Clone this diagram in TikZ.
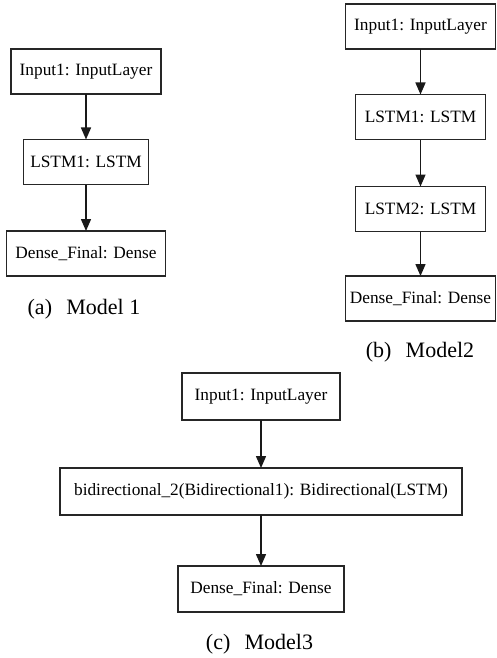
\documentclass[tikz,border=0pt]{standalone}
\usepackage{fontspec}
\setmainfont{Liberation Serif}
\usetikzlibrary{arrows.meta}
\newcommand{\arrow}{{Triangle[length=12pt, width=10pt]}}
\newcommand{\lineWidth}{1.5pt}
\newcommand{\layerFont}{\rmfamily\fontsize{17.3}{20}\selectfont}
\newcommand{\capFont}{\rmfamily\fontsize{22}{26}\selectfont}
\newcommand{\capGap}{\hspace{0.65em}}
\tikzstyle{layer}=[draw=black!85, line width=\lineWidth, inner sep=0, outer sep=0, minimum height=45pt, font=\layerFont]
\tikzstyle{caption}=[inner sep=0, outer sep=0, font=\capFont]
\tikzstyle{line}=[draw=black!90, line width=\lineWidth]
\tikzstyle{arrow}=[line, -\arrow]

\begin{document}
\begin{tikzpicture}[x=1pt, y=-1pt]

% Frame
\useasboundingbox (0,0) rectangle (496,658);

% Model 1
\node[layer, minimum width=150pt] (inA) at (86,71.5) {Input1: InputLayer};
\node[layer, minimum width=125pt] (lstmA) at (86,162) {LSTM1: LSTM};
\node[layer, minimum width=159pt] (denseA) at (86,253.5) {Dense\_Final: Dense};
\draw[arrow] (inA) -- (lstmA);
\draw[arrow] (lstmA) -- (denseA);
\node[caption] (capA) at (84,309) {(a)\capGap Model 1};

% Model 2
\node[layer, minimum width=150pt] (inB) at (420.5,26.5) {Input1: InputLayer};
\node[layer, minimum width=130pt] (lstmOneB) at (420.5,117) {LSTM1: LSTM};
\node[layer, minimum width=130pt] (lstmTwoB) at (420.5,209) {LSTM2: LSTM};
\node[layer, minimum width=150pt] (denseB) at (420.5,298.5) {Dense\_Final: Dense};
\draw[arrow] (inB) -- (lstmOneB);
\draw[arrow] (lstmOneB) -- (lstmTwoB);
\draw[arrow] (lstmTwoB) -- (denseB);
\node[caption] (capB) at (420,352) {(b)\capGap Model2};

% Model 3
\node[layer, minimum width=158pt, minimum height=47pt] (inC) at (261,396.5) {Input1: InputLayer};
\node[layer, minimum width=402pt, minimum height=47pt] (biC) at (261,491.5) {bidirectional\_2(Bidirectional1): Bidirectional(LSTM)};
\node[layer, minimum width=166pt, minimum height=46pt] (denseC) at (261,589) {Dense\_Final: Dense};
\draw[arrow] (inC) -- (biC);
\draw[arrow] (biC) -- (denseC);
\node[caption] (capC) at (259.5,644) {(c)\capGap Model3};

\end{tikzpicture}
\end{document}
